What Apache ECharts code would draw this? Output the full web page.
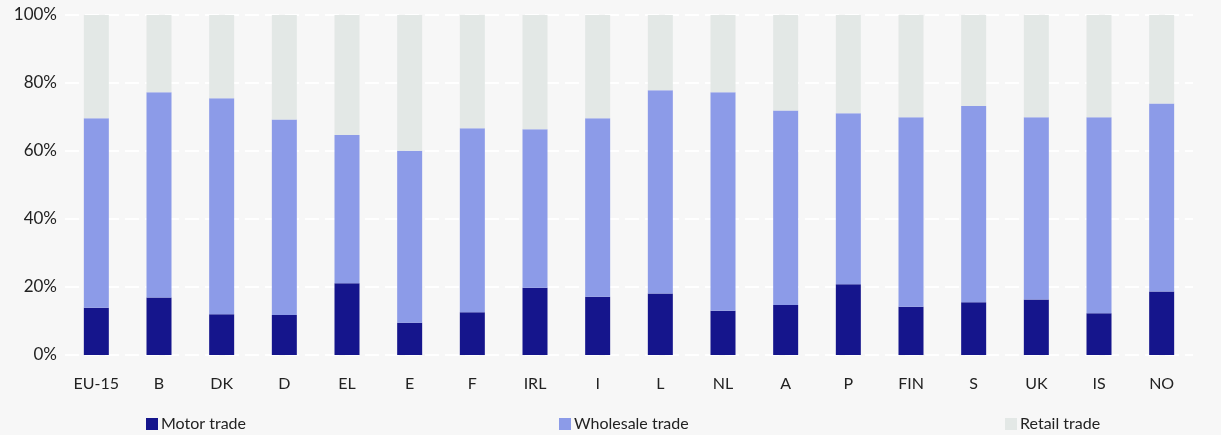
<!DOCTYPE html>
<html>
<head>
<meta charset="utf-8">
<script src="https://cdn.jsdelivr.net/npm/echarts@6/dist/echarts.min.js"></script>
<style>
  html, body { margin: 0; padding: 0; background: #f7f7f7; }
  #chart { width: 1221px; height: 435px; }
</style>
</head>
<body>
<div id="chart"></div>
<script>
// Structure of trade turnover by sub-sector (% of total)
const categories = ['EU-15', 'B', 'DK', 'D', 'EL', 'E', 'F', 'IRL', 'I', 'L', 'NL', 'A', 'P', 'FIN', 'S', 'UK', 'IS', 'NO'];
const motorTrade     = [13.9, 16.9, 12.0, 11.8, 21.1,  9.5, 12.6, 19.8, 17.1, 18.1, 13.0, 14.7, 20.8, 14.2, 15.5, 16.3, 12.3, 18.7];
const wholesaleTrade = [55.7, 60.4, 63.5, 57.5, 43.6, 50.6, 54.1, 46.6, 52.5, 59.8, 64.3, 57.2, 50.3, 55.7, 57.7, 53.6, 57.6, 55.3];
const retailTrade    = [30.4, 22.7, 24.5, 30.7, 35.3, 39.9, 33.3, 33.6, 30.4, 22.1, 22.7, 28.1, 28.9, 30.1, 26.8, 30.1, 30.1, 26.0];
const yTicks = ['0%', '20%', '40%', '60%', '80%', '100%'];
const seriesNames = ['Motor trade', 'Wholesale trade', 'Retail trade'];

const chart = echarts.init(document.getElementById('chart'));
const font = 'Lato, "Open Sans", sans-serif';

const barSeries = (name, data, color) => ({
  name,
  type: 'bar',
  stack: 'total',
  data,
  barWidth: 25,
  itemStyle: { color },
  emphasis: { disabled: true }
});

// one legend block per series, spread along the bottom edge
const legendLeft = [141, 554, 1000];
const legends = seriesNames.map((name, i) => ({
  left: legendLeft[i],
  top: 411,
  icon: 'rect',
  itemWidth: 12,
  itemHeight: 12,
  itemGap: 0,
  textStyle: { fontSize: 16, color: '#222', fontFamily: font, padding: [0, 0, 0, -2] },
  data: [name]
}));

chart.setOption({
  backgroundColor: '#f7f7f7',
  animation: false,
  textStyle: { fontFamily: font },
  grid: { left: 65, right: 28, top: 15, bottom: 80 },
  legend: legends,
  xAxis: {
    type: 'category',
    data: categories,
    axisLine: { show: false },
    axisTick: { show: false },
    axisLabel: { fontSize: 16, color: '#222', margin: 21 }
  },
  yAxis: {
    type: 'value',
    min: 0,
    max: 100,
    interval: 20,
    axisLine: { show: false },
    axisTick: { show: false },
    axisLabel: {
      fontSize: 17,
      color: '#222',
      margin: 8,
      formatter: v => yTicks[v / 20]
    },
    splitLine: { lineStyle: { color: '#ffffff', width: 2, type: [14, 6] } }
  },
  series: [
    barSeries(seriesNames[0], motorTrade, '#15158c'),
    barSeries(seriesNames[1], wholesaleTrade, '#8c9be8'),
    barSeries(seriesNames[2], retailTrade, '#e3e8e6')
  ]
});
</script>
</body>
</html>
